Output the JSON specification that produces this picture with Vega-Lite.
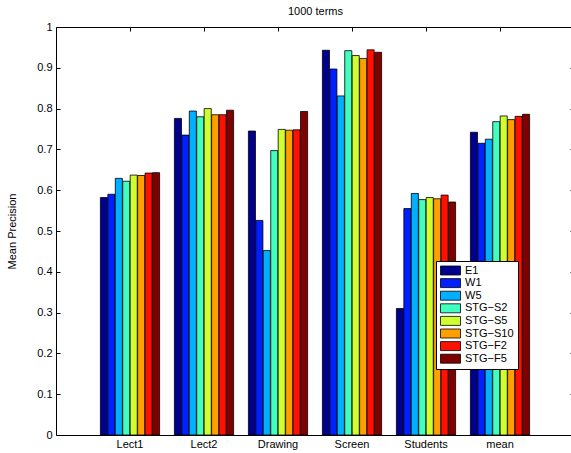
{
  "$schema": "https://vega.github.io/schema/vega-lite/v6.json",
  "autosize": {"type": "none"},
  "padding": {"left": 56, "top": 27, "right": 0, "bottom": 18},
  "width": 518,
  "height": 408,
  "background": "white",
  "config": {
    "view": {"stroke": "black", "strokeWidth": 1},
    "axis": {"labelFont": "Liberation Sans", "titleFont": "Liberation Sans", "labelColor": "black", "titleColor": "black", "domainColor": "black", "tickColor": "black", "grid": false}
  },
  "data": {"values": [
    {"group": "Lect1", "series": "E1", "value": 0.582},
    {"group": "Lect1", "series": "W1", "value": 0.590},
    {"group": "Lect1", "series": "W5", "value": 0.629},
    {"group": "Lect1", "series": "STG−S2", "value": 0.622},
    {"group": "Lect1", "series": "STG−S5", "value": 0.637},
    {"group": "Lect1", "series": "STG−S10", "value": 0.636},
    {"group": "Lect1", "series": "STG−F2", "value": 0.642},
    {"group": "Lect1", "series": "STG−F5", "value": 0.643},
    {"group": "Lect2", "series": "E1", "value": 0.776},
    {"group": "Lect2", "series": "W1", "value": 0.735},
    {"group": "Lect2", "series": "W5", "value": 0.794},
    {"group": "Lect2", "series": "STG−S2", "value": 0.780},
    {"group": "Lect2", "series": "STG−S5", "value": 0.800},
    {"group": "Lect2", "series": "STG−S10", "value": 0.785},
    {"group": "Lect2", "series": "STG−F2", "value": 0.785},
    {"group": "Lect2", "series": "STG−F5", "value": 0.796},
    {"group": "Drawing", "series": "E1", "value": 0.745},
    {"group": "Drawing", "series": "W1", "value": 0.526},
    {"group": "Drawing", "series": "W5", "value": 0.452},
    {"group": "Drawing", "series": "STG−S2", "value": 0.697},
    {"group": "Drawing", "series": "STG−S5", "value": 0.749},
    {"group": "Drawing", "series": "STG−S10", "value": 0.747},
    {"group": "Drawing", "series": "STG−F2", "value": 0.748},
    {"group": "Drawing", "series": "STG−F5", "value": 0.793},
    {"group": "Screen", "series": "E1", "value": 0.943},
    {"group": "Screen", "series": "W1", "value": 0.897},
    {"group": "Screen", "series": "W5", "value": 0.831},
    {"group": "Screen", "series": "STG−S2", "value": 0.942},
    {"group": "Screen", "series": "STG−S5", "value": 0.930},
    {"group": "Screen", "series": "STG−S10", "value": 0.923},
    {"group": "Screen", "series": "STG−F2", "value": 0.944},
    {"group": "Screen", "series": "STG−F5", "value": 0.938},
    {"group": "Students", "series": "E1", "value": 0.310},
    {"group": "Students", "series": "W1", "value": 0.555},
    {"group": "Students", "series": "W5", "value": 0.592},
    {"group": "Students", "series": "STG−S2", "value": 0.577},
    {"group": "Students", "series": "STG−S5", "value": 0.582},
    {"group": "Students", "series": "STG−S10", "value": 0.579},
    {"group": "Students", "series": "STG−F2", "value": 0.588},
    {"group": "Students", "series": "STG−F5", "value": 0.571},
    {"group": "mean", "series": "E1", "value": 0.742},
    {"group": "mean", "series": "W1", "value": 0.715},
    {"group": "mean", "series": "W5", "value": 0.725},
    {"group": "mean", "series": "STG−S2", "value": 0.768},
    {"group": "mean", "series": "STG−S5", "value": 0.782},
    {"group": "mean", "series": "STG−S10", "value": 0.773},
    {"group": "mean", "series": "STG−F2", "value": 0.781},
    {"group": "mean", "series": "STG−F5", "value": 0.786}
  ]},
  "layer": [
    {
      "mark": {"type": "bar", "stroke": "black", "strokeWidth": 0.8, "opacity": 1},
      "encoding": {
        "x": {"field": "group", "type": "nominal", "sort": ["Lect1", "Lect2", "Drawing", "Screen", "Students", "mean"],
          "scale": {"paddingInner": 0.2, "paddingOuter": 0.6},
          "axis": {"title": null, "labelAngle": 0, "labelFontSize": 11, "tickSize": -4, "labelPadding": 7, "domain": false}},
        "xOffset": {"field": "series", "type": "nominal", "sort": ["E1", "W1", "W5", "STG−S2", "STG−S5", "STG−S10", "STG−F2", "STG−F5"],
          "scale": {"paddingInner": 0.05, "paddingOuter": 0}},
        "y": {"field": "value", "type": "quantitative",
          "scale": {"domain": [0, 1], "nice": false, "zero": true},
          "axis": {"title": "Mean Precision", "titleFontSize": 11, "titleFontWeight": "normal", "titlePadding": 19, "labelFontSize": 11, "values": [0, 0.1, 0.2, 0.3, 0.4, 0.5, 0.6, 0.7, 0.8, 0.9, 1], "format": "~g", "tickSize": -4, "labelPadding": 8, "domain": false}},
        "fill": {"field": "series", "type": "nominal",
          "sort": ["E1", "W1", "W5", "STG−S2", "STG−S5", "STG−S10", "STG−F2", "STG−F5"],
          "scale": {"domain": ["E1", "W1", "W5", "STG−S2", "STG−S5", "STG−S10", "STG−F2", "STG−F5"],
            "range": ["#00008F", "#0020FF", "#00AFFF", "#40FFBF", "#CFFF30", "#FF9F00", "#FF1000", "#800000"]},
          "legend": {"title": null, "orient": "none", "legendX": 380, "legendY": 234, "direction": "vertical",
            "labelFont": "Liberation Sans", "labelFontSize": 11, "labelColor": "black", "labelOffset": 14,
            "symbolType": "M-1,-0.9H3V0.9H-1Z", "symbolSize": 100, "symbolStrokeColor": "black", "symbolStrokeWidth": 0.8, "symbolOpacity": 1,
            "strokeColor": "black", "fillColor": "white", "padding": 4, "rowPadding": -0.4}}
      }
    },
    {
      "mark": {"type": "bar", "opacity": 0},
      "encoding": {
        "x": {"field": "group", "type": "nominal", "sort": ["Lect1", "Lect2", "Drawing", "Screen", "Students", "mean"],
          "axis": {"orient": "top", "title": "1000 terms", "titleFontSize": 11, "titleFontWeight": "normal", "titlePadding": 10, "labels": false, "tickSize": -4, "domain": false}},
        "y": {"field": "value", "type": "quantitative",
          "axis": {"orient": "right", "title": null, "labels": false, "values": [0, 0.1, 0.2, 0.3, 0.4, 0.5, 0.6, 0.7, 0.8, 0.9, 1], "tickSize": -4, "domain": false}}
      }
    }
  ],
  "resolve": {"axis": {"x": "independent", "y": "independent"}}
}
